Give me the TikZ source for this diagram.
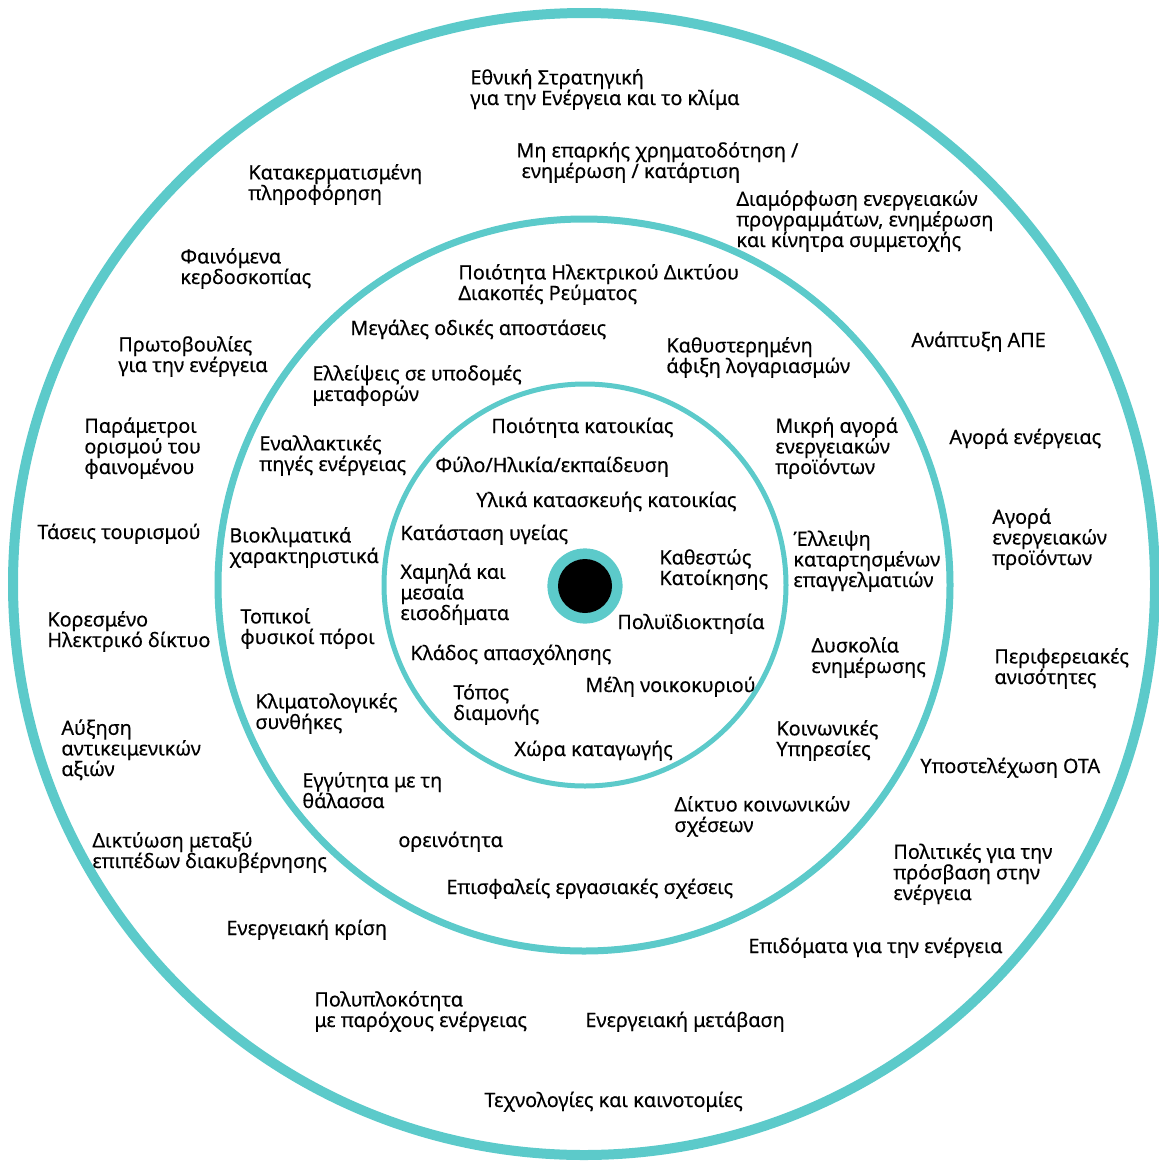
\documentclass[tikz,border=0pt]{standalone}
\usepackage{fontspec}
\setmainfont[FakeBold=0.4]{Noto Sans}
\usepackage{tikz}
\definecolor{ringteal}{RGB}{92,202,202}
\newcommand{\lblfont}{\fontsize{9.9pt}{10.3pt}\selectfont}

\begin{document}
\begin{tikzpicture}[x=0.5pt,y=-0.5pt,
  lbl/.style={anchor=base west, inner sep=0pt, align=left, font=\lblfont}]
\useasboundingbox (0,0) rectangle (1159,1162);
% rings
\draw [ringteal, line width=5pt] (584,584) circle [radius=285.5pt];
\draw [ringteal, line width=3.5pt] (584,585) circle [radius=183pt];
\draw [ringteal, line width=2.5pt] (585,585) circle [radius=100.5pt];
\fill [ringteal] (585,586) circle [radius=18.8pt];
\fill [black] (585,586) circle [radius=13.5pt];
% outer ring (y = baseline of last line)
\node (strat) at (470,105) [lbl] {Εθνική Στρατηγική\\για την Ενέργεια και το κλίμα};
\node (funding) at (516,178) [lbl] {Μη επαρκής χρηματοδότηση /\\\ ενημέρωση / κατάρτιση};
\node (fragm) at (248,200) [lbl] {Κατακερματισμένη\\πληροφόρηση};
\node (programs) at (736,247) [lbl] {Διαμόρφωση ενεργειακών\\προγραμμάτων, ενημέρωση\\και κίνητρα συμμετοχής};
\node (specul) at (180,284) [lbl] {Φαινόμενα\\κερδοσκοπίας};
\node (initiat) at (118,372) [lbl] {Πρωτοβουλίες\\για την ενέργεια};
\node (ape) at (911,347) [lbl] {Ανάπτυξη ΑΠΕ};
\node (params) at (84,474) [lbl] {Παράμετροι\\ορισμού του\\φαινομένου};
\node (market) at (949,444) [lbl] {Αγορά ενέργειας};
\node (tourism) at (37,539) [lbl] {Τάσεις τουρισμού};
\node (eprod) at (992,565) [lbl] {Αγορά\\ενεργειακών\\προϊόντων};
\node (grid) at (47,647) [lbl] {Κορεσμένο\\Ηλεκτρικό δίκτυο};
\node (regional) at (994,684) [lbl] {Περιφερειακές\\ανισότητες};
\node (values) at (61,776) [lbl] {Αύξηση\\αντικειμενικών\\αξιών};
\node (ota) at (920,773) [lbl] {Υποστελέχωση ΟΤΑ};
\node (network) at (92,868) [lbl] {Δικτύωση μεταξύ\\επιπέδων διακυβέρνησης};
\node (policies) at (893,900) [lbl] {Πολιτικές για την\\πρόσβαση στην\\ενέργεια};
\node (crisis) at (226,935) [lbl] {Ενεργειακή κρίση};
\node (benefits) at (748,953) [lbl] {Επιδόματα για την ενέργεια};
\node (providers) at (314,1027) [lbl] {Πολυπλοκότητα\\με παρόχους ενέργειας};
\node (transition) at (585,1027) [lbl] {Ενεργειακή μετάβαση};
\node (tech) at (484,1107) [lbl] {Τεχνολογίες και καινοτομίες};
% middle ring
\node (gridq) at (458,300) [lbl] {Ποιότητα Ηλεκτρικού Δικτύου\\Διακοπές Ρεύματος};
\node (roads) at (350,335) [lbl] {Μεγάλες οδικές αποστάσεις};
\node (bills) at (666,373) [lbl] {Καθυστερημένη\\άφιξη λογαριασμών};
\node (transport) at (312,401) [lbl] {Ελλείψεις σε υποδομές\\μεταφορών};
\node (smallmkt) at (775,474) [lbl] {Μικρή αγορά\\ενεργειακών\\προϊόντων};
\node (altsrc) at (259,471) [lbl] {Εναλλακτικές\\πηγές ενέργειας};
\node (bioclim) at (229,563) [lbl] {Βιοκλιματικά\\χαρακτηριστικά};
\node (skills) at (793,587) [lbl] {Έλλειψη\\καταρτησμένων\\επαγγελματιών};
\node (natres) at (240,644) [lbl] {Τοπικοί\\φυσικοί πόροι};
\node (inform) at (811,673) [lbl] {Δυσκολία\\ενημέρωσης};
\node (climate) at (255,729) [lbl] {Κλιματολογικές\\συνθήκες};
\node (social) at (776,756) [lbl] {Κοινωνικές\\Υπηρεσίες};
\node (sea) at (302,808) [lbl] {Εγγύτητα με τη\\θάλασσα};
\node (relations) at (674,832) [lbl] {Δίκτυο κοινωνικών\\σχέσεων};
\node (mountain) at (398,847) [lbl] {ορεινότητα};
\node (precar) at (446,894) [lbl] {Επισφαλείς εργασιακές σχέσεις};
% inner circle
\node (housing) at (491,433) [lbl] {Ποιότητα κατοικίας};
\node (gender) at (435,472) [lbl] {Φύλο/Ηλικία/εκπαίδευση};
\node (materials) at (476,507) [lbl] {Υλικά κατασκευής κατοικίας};
\node (health) at (400,540) [lbl] {Κατάσταση υγείας};
\node (income) at (400,620) [lbl] {Χαμηλά και\\μεσαία\\εισοδήματα};
\node (tenure) at (659,585) [lbl] {Καθεστώς\\Κατοίκησης};
\node (multiown) at (617,629) [lbl] {Πολυϊδιοκτησία};
\node (sector) at (410,660) [lbl] {Κλάδος απασχόλησης};
\node (members) at (585,692) [lbl] {Μέλη νοικοκυριού};
\node (residence) at (453,720) [lbl] {Τόπος\\διαμονής};
\node (origin) at (514,756) [lbl] {Χώρα καταγωγής};
\end{tikzpicture}
\end{document}
